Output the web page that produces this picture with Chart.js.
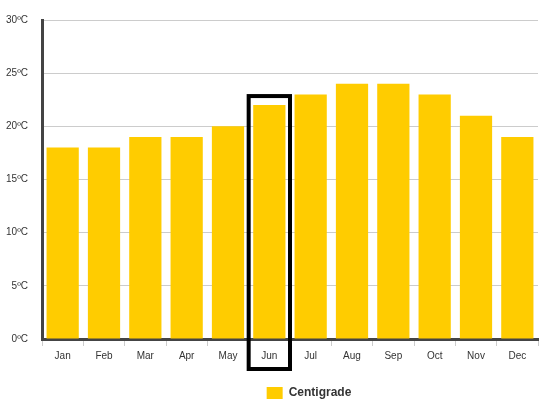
<!DOCTYPE html>
<html><head><meta charset="utf-8">
<script src="https://cdn.jsdelivr.net/npm/chart.js@4"></script>
<style>html,body{margin:0;padding:0;background:#fff}#wrap{width:541px;height:405px;position:relative}</style>
</head><body><div id="wrap"><canvas id="c"></canvas></div>
<script>
const months = ['Jan','Feb','Mar','Apr','May','Jun','Jul','Aug','Sep','Oct','Nov','Dec'];
const centigrade = [18,18,19,19,20,22,23,24,24,23,21,19];
const yTicks = [0,5,10,15,20,25,30];
const highlightIndex = 5;
const seriesName = 'Centigrade';

const highlightPlugin = {
  id: 'highlight',
  afterLayout(chart){
    const l = chart.legend;
    if (l) { l.left += 38; l.right += 38; l.top += 6; l.bottom += 6; }
  },
  afterDraw(chart){
    const x = chart.scales.x, y = chart.scales.y;
    const cx = x.getPixelForValue(highlightIndex);
    const half = (x.getPixelForValue(1) - x.getPixelForValue(0)) / 2;
    const top = y.getPixelForValue(centigrade[highlightIndex]) - 9;
    const bottom = chart.chartArea.bottom + 30;
    const ctx = chart.ctx;
    ctx.save();
    ctx.strokeStyle = '#000';
    ctx.lineWidth = 4;
    ctx.strokeRect(cx - half, top, half * 2, bottom - top);
    ctx.restore();
  }
};

new Chart(document.getElementById('c'), {
  type: 'bar',
  data: { labels: months, datasets: [{ label: seriesName, data: centigrade, backgroundColor: '#FFCC00', borderWidth: 0, barPercentage: 0.78, categoryPercentage: 1 }] },
  options: {
    responsive: true, maintainAspectRatio: false, animation: false,
    layout: { padding: { left: 4, right: 3, top: 15, bottom: 2 } },
    plugins: {
      tooltip: { enabled: false },
      legend: { position: 'bottom', labels: { boxWidth: 16, boxHeight: 12, color: '#333', padding: 8, font: { family: 'Liberation Sans, Arial', size: 12, weight: 'bold' } } }
    },
    scales: {
      x: {
        afterFit(s){ s.height += 7; },
        grid: { drawOnChartArea: false, drawTicks: true, tickLength: 7, color: '#ccc', offset: true },
        border: { color: '#444', width: 3 },
        ticks: { color: '#333', padding: 4, font: { family: 'Liberation Sans, Arial', size: 10 } }
      },
      y: {
        min: 0, max: 30,
        afterFit(s){ s.width = 38; },
        afterBuildTicks(s){ s.ticks = yTicks.map(v => ({ value: v })); },
        grid: { color: '#ccc', drawTicks: false },
        border: { color: '#444', width: 3 },
        ticks: { color: '#333', padding: 14, font: { family: 'Liberation Sans, Arial', size: 10 }, callback: v => v + 'ºC' }
      }
    }
  },
  plugins: [highlightPlugin]
});
</script></body></html>
